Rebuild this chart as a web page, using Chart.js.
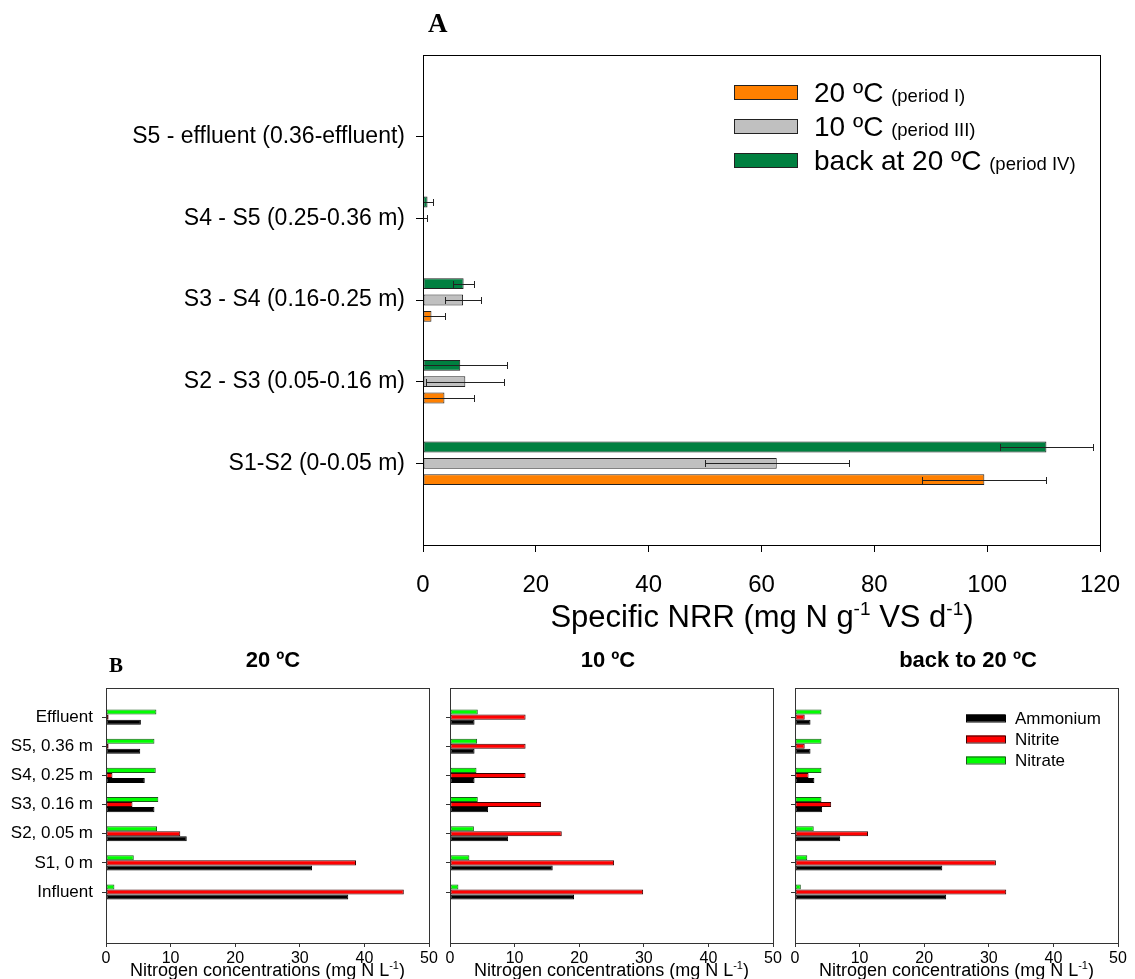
<!DOCTYPE html>
<html>
<head>
<meta charset="utf-8">
<script src="https://cdn.jsdelivr.net/npm/chart.js@4.4.1/dist/chart.umd.min.js"></script>
<style>
  html, body { margin: 0; padding: 0; background: #fff; }
  #wrap { position: relative; width: 1135px; height: 979px; }
  #wrap canvas { position: absolute; left: 0; top: 0; }
</style>
</head>
<body>
<div id="wrap">
  <canvas id="chartA" width="1135" height="979"></canvas>
  <canvas id="chartB1" width="1135" height="979"></canvas>
  <canvas id="chartB2" width="1135" height="979"></canvas>
  <canvas id="chartB3" width="1135" height="979"></canvas>
</div>
<script>
// ---- panel A: specific NRR per reactor section (top to bottom) ----
const sections = ['S5 - effluent (0.36-effluent)', 'S4 - S5 (0.25-0.36 m)', 'S3 - S4 (0.16-0.25 m)', 'S2 - S3 (0.05-0.16 m)', 'S1-S2 (0-0.05 m)'];
const nrr20 = [0, 0, 1.5, 3.8, 99.5];
const nrr20Err = [0, 0, 2.4, 5.3, 11.0];
const nrr10 = [0, 0.2, 7.1, 7.5, 62.7];
const nrr10Err = [0, 0.5, 3.2, 6.9, 12.8];
const nrrBack = [0, 0.8, 7.2, 6.6, 110.5];
const nrrBackErr = [0, 1.0, 1.8, 8.3, 8.3];
const nrrTicks = [0, 20, 40, 60, 80, 100, 120];

// ---- panel B: nitrogen species along the reactor (top to bottom) ----
const points = ['Effluent', 'S5, 0.36 m', 'S4, 0.25 m', 'S3, 0.16 m', 'S2, 0.05 m', 'S1, 0 m', 'Influent'];
const ammonium20 = [5.4, 5.3, 6.0, 7.5, 12.5, 31.9, 37.5];
const nitrite20 = [0.4, 0.4, 1.0, 4.1, 11.5, 38.7, 46.1];
const nitrate20 = [7.8, 7.5, 7.7, 8.1, 7.9, 4.3, 1.3];
const ammonium10 = [3.8, 3.8, 3.8, 5.9, 9.0, 15.9, 19.2];
const nitrite10 = [11.7, 11.7, 11.7, 14.1, 17.3, 25.4, 29.9];
const nitrate10 = [4.3, 4.2, 4.1, 4.3, 3.7, 3.0, 1.3];
const ammoniumBack = [2.4, 2.4, 3.0, 4.2, 7.0, 22.8, 23.4];
const nitriteBack = [1.5, 1.5, 2.1, 5.6, 11.3, 31.1, 32.7];
const nitrateBack = [4.1, 4.1, 4.1, 4.1, 2.9, 1.9, 0.9];
const concTicks = [0, 10, 20, 30, 40, 50];

const W = 1135, H = 979;
const SANS = "'Liberation Sans', Arial, sans-serif";
const SERIF = "'Liberation Serif', 'Times New Roman', serif";

Chart.defaults.font.family = SANS;
Chart.defaults.color = '#000';

// values -> {x, y} with y = position on the linear index axis
function asPoints(values, offset) {
    return values.map((v, i) => ({ x: v, y: i + offset }));
}

// keep the plot box exactly where the padding puts it
function noEdgePadding(s) {
    s.paddingLeft = 0;
    s.paddingRight = 0;
    s.paddingTop = 0;
    s.paddingBottom = 0;
}

// text pieces on one baseline, e.g. for superscripts
function drawRich(ctx, parts, x, y, align) {
    let total = 0;
    parts.forEach(p => {
        ctx.font = (p.bold ? 'bold ' : '') + p.size + 'px ' + (p.family || SANS);
        p.w = ctx.measureText(p.t).width;
        total += p.w;
    });
    let cx = align === 'center' ? x - total / 2 : (align === 'right' ? x - total : x);
    ctx.textAlign = 'left';
    ctx.textBaseline = 'alphabetic';
    ctx.fillStyle = '#000';
    parts.forEach(p => {
        ctx.font = (p.bold ? 'bold ' : '') + p.size + 'px ' + (p.family || SANS);
        ctx.fillText(p.t, cx, y - (p.rise || 0));
        cx += p.w;
    });
}

const boxFrame = {
    id: 'boxFrame',
    afterDraw(chart, args, opts) {
        const { ctx, chartArea: a } = chart;
        ctx.save();
        ctx.strokeStyle = opts.color;
        ctx.lineWidth = 1;
        ctx.strokeRect(a.left + 0.5, a.top + 0.5, a.right - a.left, a.bottom - a.top);
        ctx.restore();
    }
};

const errorBars = {
    id: 'errorBars',
    afterDatasetsDraw(chart) {
        const { ctx, chartArea: a, scales: { x } } = chart;
        ctx.save();
        ctx.beginPath();
        ctx.rect(a.left + 1, a.top, a.right - a.left, a.bottom - a.top);
        ctx.clip();
        ctx.strokeStyle = '#222';
        ctx.lineWidth = 1;
        chart.data.datasets.forEach((ds, di) => {
            if (!ds.errors) return;
            chart.getDatasetMeta(di).data.forEach((bar, i) => {
                const err = ds.errors[i];
                if (!err) return;
                const v = ds.data[i].x;
                const lo = Math.round(x.getPixelForValue(v - err)) + 0.5;
                const hi = Math.round(x.getPixelForValue(v + err)) + 0.5;
                const y = Math.round(bar.y) + 0.5;
                ctx.beginPath();
                ctx.moveTo(lo, y); ctx.lineTo(hi, y);
                ctx.moveTo(lo, y - 3.5); ctx.lineTo(lo, y + 3.5);
                ctx.moveTo(hi, y - 3.5); ctx.lineTo(hi, y + 3.5);
                ctx.stroke();
            });
        });
        ctx.restore();
    }
};

// ---------------- panel A ----------------
const colors20 = '#ff8000', colors10 = '#c0c0c0', colorsBack = '#008040';

const panelAText = {
    id: 'panelAText',
    afterDraw(chart) {
        const ctx = chart.ctx;
        ctx.save();
        drawRich(ctx, [{ t: 'A', size: 27, bold: true, family: SERIF }], 428, 32, 'left');
        drawRich(ctx, [
            { t: 'Specific NRR (mg N g', size: 31 },
            { t: '-1', size: 19, rise: 12 },
            { t: ' VS d', size: 31 },
            { t: '-1', size: 19, rise: 12 },
            { t: ')', size: 31 }
        ], 762, 627, 'center');
        // legend
        const rows = [
            { c: colors20, big: '20 ºC', small: '(period I)' },
            { c: colors10, big: '10 ºC', small: '(period III)' },
            { c: colorsBack, big: 'back at 20 ºC', small: '(period IV)' }
        ];
        rows.forEach((r, i) => {
            const base = 101.5 + i * 34;
            ctx.fillStyle = r.c;
            ctx.fillRect(734, base - 16.5, 63, 14);
            ctx.strokeStyle = '#222';
            ctx.lineWidth = 1;
            ctx.strokeRect(734.5, base - 16, 63, 14);
            drawRich(ctx, [{ t: r.big + ' ', size: 28 }, { t: r.small, size: 18.5 }], 814, base, 'left');
        });
        ctx.restore();
    }
};

new Chart(document.getElementById('chartA'), {
    type: 'bar',
    data: {
        datasets: [
            { label: 'back at 20 ºC', data: asPoints(nrrBack, 1), errors: nrrBackErr, backgroundColor: colorsBack },
            { label: '10 ºC', data: asPoints(nrr10, 1), errors: nrr10Err, backgroundColor: colors10 },
            { label: '20 ºC', data: asPoints(nrr20, 1), errors: nrr20Err, backgroundColor: colors20 }
        ]
    },
    options: {
        indexAxis: 'y',
        responsive: false,
        animation: false,
        layout: { padding: { top: 55, right: 35, left: 0, bottom: 0 } },
        datasets: {
            bar: { borderColor: '#222', borderWidth: 1, borderSkipped: false, categoryPercentage: 0.6, barPercentage: 0.66 }
        },
        plugins: {
            legend: { display: false },
            tooltip: { enabled: false },
            boxFrame: { color: '#000' }
        },
        scales: {
            x: {
                type: 'linear', min: 0, max: 120,
                afterBuildTicks: s => { s.ticks = nrrTicks.map(v => ({ value: v })); },
                ticks: { font: { size: 24 }, padding: 19, maxRotation: 0, autoSkip: false },
                grid: { display: true, drawOnChartArea: false, tickLength: 7, color: '#000' },
                border: { color: '#000' },
                afterFit: s => { s.height = H - 545; noEdgePadding(s); }
            },
            y: {
                type: 'linear', reverse: true, offset: false, min: 0, max: sections.length + 1,
                afterBuildTicks: s => { s.ticks = sections.map((_, i) => ({ value: i + 1 })); },
                ticks: { callback: (v, i) => sections[i], font: { size: 23 }, padding: 11, autoSkip: false },
                grid: { display: true, offset: false, drawOnChartArea: false, tickLength: 7, color: '#000' },
                border: { color: '#000' },
                afterFit: s => { s.width = 423; noEdgePadding(s); }
            }
        }
    },
    plugins: [boxFrame, errorBars, panelAText]
});

// ---------------- panel B ----------------
const colAmm = '#000000', colNitrite = '#ff0000', colNitrate = '#00ff00';

function nitrogenPanel(id, left, right, ammonium, nitrite, nitrate, title, titleX, showLabels, extras) {
    const textPlugin = {
        id: 'panelBText',
        afterDraw(chart) {
            const ctx = chart.ctx;
            const a = chart.chartArea;
            const mid = (a.left + a.right) / 2;
            ctx.save();
            drawRich(ctx, [{ t: title, size: 22, bold: true }], titleX, 667, 'center');
            drawRich(ctx, [
                { t: 'Nitrogen concentrations (mg N L', size: 18 },
                { t: '-1', size: 11, rise: 7 },
                { t: ')', size: 18 }
            ], mid, 976, 'center');
            if (extras) extras(ctx, chart);
            ctx.restore();
        }
    };
    return new Chart(document.getElementById(id), {
        type: 'bar',
        data: {
            datasets: [
                { label: 'Nitrate', data: asPoints(nitrate, 0), backgroundColor: colNitrate, borderColor: '#1a5a1a' },
                { label: 'Nitrite', data: asPoints(nitrite, 0), backgroundColor: colNitrite, borderColor: '#3a0000' },
                { label: 'Ammonium', data: asPoints(ammonium, 0), backgroundColor: colAmm, borderColor: '#000' }
            ]
        },
        options: {
            indexAxis: 'y',
            responsive: false,
            animation: false,
            layout: { padding: { top: 688, right: W - right, left: 0, bottom: 0 } },
            datasets: {
                bar: { borderWidth: 1, borderSkipped: false, categoryPercentage: 0.52, barPercentage: 1.0 }
            },
            plugins: {
                legend: { display: false },
                tooltip: { enabled: false },
                boxFrame: { color: '#333' }
            },
            scales: {
                x: {
                    type: 'linear', min: 0, max: 50,
                    afterBuildTicks: s => { s.ticks = concTicks.map(v => ({ value: v })); },
                    ticks: { font: { size: 16 }, padding: 2, maxRotation: 0, autoSkip: false },
                    grid: { display: true, drawOnChartArea: false, tickLength: 4, color: '#333' },
                    border: { color: '#333' },
                    afterFit: s => { s.height = H - 943; noEdgePadding(s); }
                },
                y: {
                    type: 'linear', reverse: true, offset: false, min: -1, max: 7.75,
                    afterBuildTicks: s => { s.ticks = points.map((_, i) => ({ value: i })); },
                    ticks: { callback: (v, i) => showLabels ? points[i] : '', font: { size: 17 }, padding: 9, autoSkip: false },
                    grid: { display: true, offset: false, drawOnChartArea: false, tickLength: 4, color: '#333' },
                    border: { color: '#333' },
                    afterFit: s => { s.width = left; noEdgePadding(s); }
                }
            }
        },
        plugins: [boxFrame, textPlugin]
    });
}

nitrogenPanel('chartB1', 106, 429, ammonium20, nitrite20, nitrate20, '20 ºC', 273, true, ctx => {
    drawRich(ctx, [{ t: 'B', size: 21, bold: true, family: SERIF }], 109, 672, 'left');
});
nitrogenPanel('chartB2', 450, 773, ammonium10, nitrite10, nitrate10, '10 ºC', 608, false);
nitrogenPanel('chartB3', 795, 1118, ammoniumBack, nitriteBack, nitrateBack, 'back to 20 ºC', 968, false, ctx => {
    const rows = [
        { c: colAmm, b: '#000', t: 'Ammonium' },
        { c: colNitrite, b: '#3a0000', t: 'Nitrite' },
        { c: colNitrate, b: '#1a5a1a', t: 'Nitrate' }
    ];
    rows.forEach((r, i) => {
        const cy = 718 + i * 21;
        ctx.fillStyle = r.c;
        ctx.fillRect(966, cy - 3.5, 39, 7);
        ctx.strokeStyle = r.b;
        ctx.lineWidth = 1;
        ctx.strokeRect(966.5, cy - 3, 39, 7);
        drawRich(ctx, [{ t: r.t, size: 17 }], 1015, cy + 6, 'left');
    });
});
</script>
</body>
</html>
